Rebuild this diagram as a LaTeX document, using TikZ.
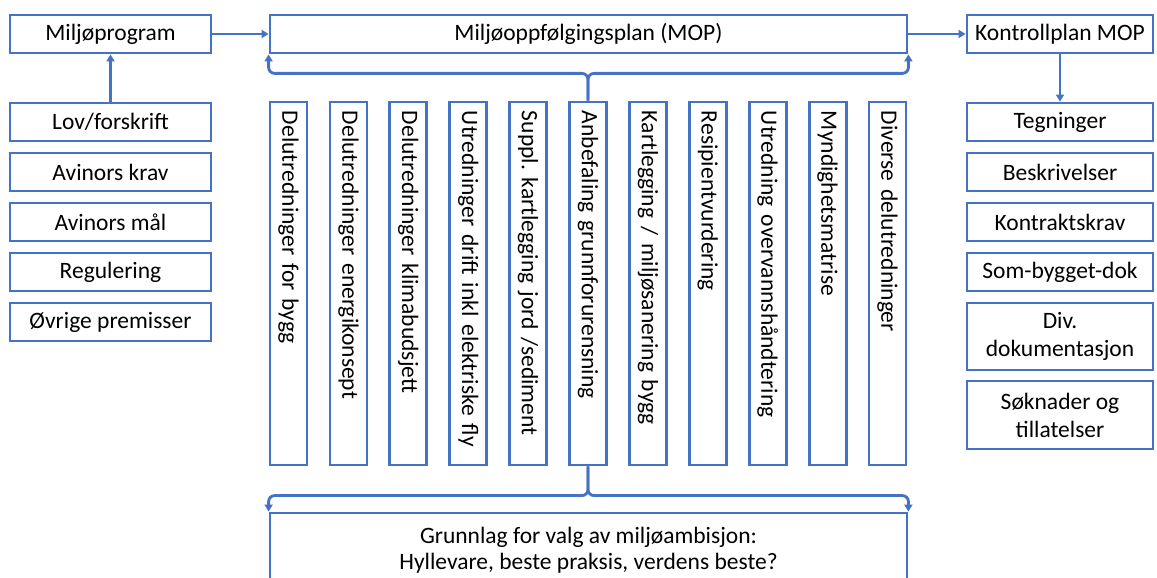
\documentclass[tikz,border=0pt]{standalone}
\usepackage{fontspec}
\setmainfont{Carlito}
\usetikzlibrary{arrows.meta}
\definecolor{obl}{HTML}{4472C4}
\frenchspacing
\tikzset{
  box/.style={draw=obl, line width=2.8pt, fill=white, inner sep=2pt, align=center, font=\fontsize{23.5}{28}\selectfont},
  colbox/.style={box, rotate=-90, minimum width=363pt, minimum height=37pt, text width=345pt, inner xsep=9pt, align=left},
  conn/.style={draw=obl, line width=2.8pt, -{Triangle[length=7pt,width=8pt]}},
}
\begin{document}
\begin{tikzpicture}[x=1pt,y=1pt]
\clip (0,0) rectangle (1157,578);
\fill[white] (0,0) rectangle (1157,578);
% top row
\node[box, minimum width=201pt, minimum height=38pt] (miljo) at (110.5,544) {Miljøprogram};
\node[box, minimum width=637pt, minimum height=38pt] (mop) at (588.5,544) {Miljøoppfølgingsplan (MOP)};
\node[box, minimum width=186pt, minimum height=38pt] (kp) at (1060,544) {Kontrollplan MOP};
% left column
\node[box, minimum width=201pt, minimum height=38pt] (lov) at (110.5,456) {Lov/forskrift};
\node[box, minimum width=201pt, minimum height=38pt] (krav) at (110.5,406) {Avinors krav};
\node[box, minimum width=201pt, minimum height=38pt] (maal) at (110.5,356) {Avinors mål};
\node[box, minimum width=201pt, minimum height=38pt] (reg) at (110.5,306) {Regulering};
\node[box, minimum width=201pt, minimum height=38pt] (ovr) at (110.5,256) {Øvrige premisser};
% right column
\node[box, minimum width=186pt, minimum height=38pt] (teg) at (1060,456) {Tegninger};
\node[box, minimum width=186pt, minimum height=38pt] (besk) at (1060,406) {Beskrivelser};
\node[box, minimum width=186pt, minimum height=38pt] (kkrav) at (1060,356) {Kontraktskrav};
\node[box, minimum width=186pt, minimum height=38pt] (sbd) at (1060,306) {Som-bygget-dok};
\node[box, minimum width=186pt, minimum height=67pt] (div) at (1060,241.5) {Div.\\dokumentasjon};
\node[box, minimum width=186pt, minimum height=68pt] (sok) at (1060,163) {Søknader og\\tillatelser};
% vertical columns
\node[colbox] (c1) at (288.5,294.5) {Delutredninger for bygg};
\node[colbox] (c2) at (348.4,294.5) {Delutredninger energikonsept};
\node[colbox] (c3) at (408.3,294.5) {Delutredninger klimabudsjett};
\node[colbox] (c4) at (468.2,294.5) {Utredninger drift inkl elektriske fly};
\node[colbox] (c5) at (528.1,294.5) {Suppl. kartlegging jord /sediment};
\node[colbox] (c6) at (588,294.5) {Anbefaling grunnforurensning};
\node[colbox] (c7) at (647.9,294.5) {Kartlegging / miljøsanering bygg};
\node[colbox] (c8) at (707.8,294.5) {Resipientvurdering};
\node[colbox] (c9) at (767.7,294.5) {Utredning overvannshåndtering};
\node[colbox] (c10) at (827.6,294.5) {Myndighetsmatrise};
\node[colbox] (c11) at (887.5,294.5) {Diverse delutredninger};
% bottom box
\node[box, minimum width=637pt, minimum height=74pt, font=\fontsize{23.5}{26}\selectfont] (bot) at (588.5,28) {Grunnlag for valg av miljøambisjon:\\Hyllevare, beste praksis, verdens beste?};
% connectors
\draw[conn] (lov.north) -- (miljo.south);
\draw[conn] (miljo.east) -- (mop.west);
\draw[conn] (mop.east) -- (kp.west);
\draw[conn] (kp.south) -- (teg.north);
\draw[conn, rounded corners=6pt] (c6.west) |- ([yshift=-19pt]mop.south west) -- (mop.south west);
\draw[conn, rounded corners=6pt] (c6.west) |- ([yshift=-19pt]mop.south east) -- (mop.south east);
\draw[conn, rounded corners=6pt] (c6.east) |- ([yshift=16pt]bot.north west) -- (bot.north west);
\draw[conn, rounded corners=6pt] (c6.east) |- ([yshift=16pt]bot.north east) -- (bot.north east);
\end{tikzpicture}
\end{document}
